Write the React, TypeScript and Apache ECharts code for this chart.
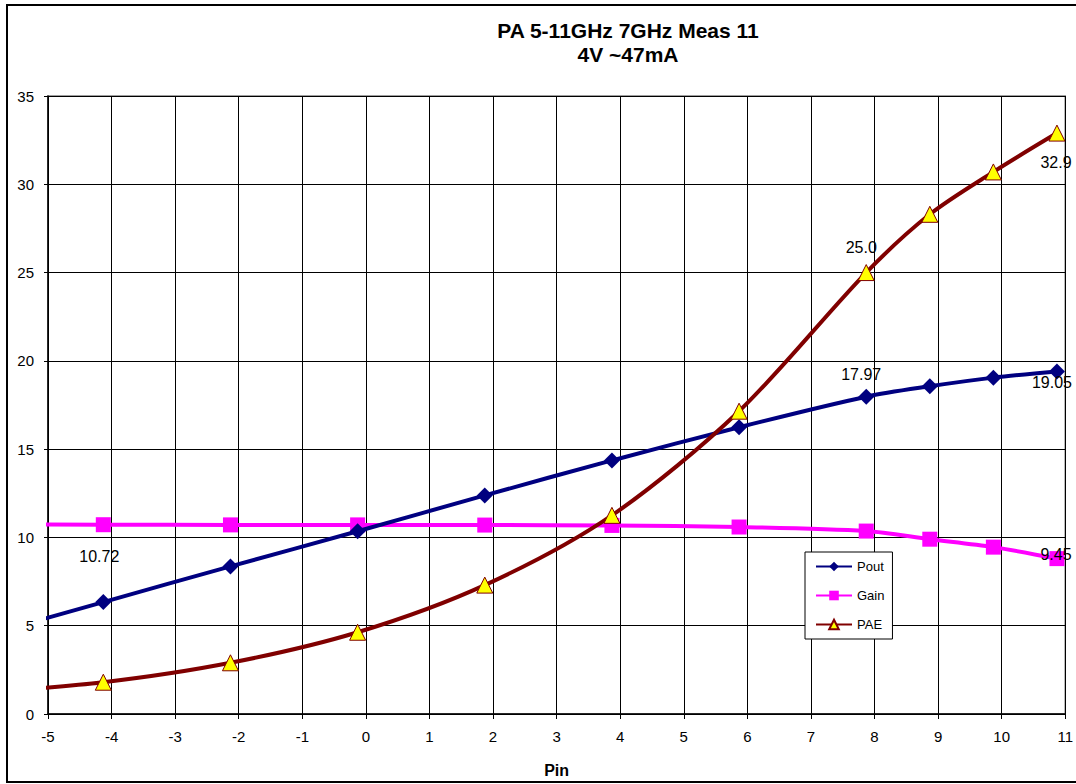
import React, { useEffect, useRef } from "react";
import * as echarts from "echarts";

const pin = [-6.13, -4.13, -2.13, -0.13, 1.87, 3.87, 5.87, 7.87, 8.87, 9.87, 10.87];
const pout = [4.3, 6.34, 8.36, 10.35, 12.38, 14.36, 16.24, 17.97, 18.56, 19.05, 19.4];
const gain = [10.75, 10.72, 10.71, 10.71, 10.7, 10.68, 10.59, 10.36, 9.9, 9.45, 8.8];
const pae = [1.2, 1.8, 2.9, 4.63, 7.3, 11.25, 17.15, 25.0, 28.3, 30.7, 32.9];

const poutLabels = ["", "", "", "", "", "", "", "17.97", "", "", "19.05"];
const gainLabels = ["", "10.72", "", "", "", "", "", "", "", "", "9.45"];
const paeLabels = ["", "", "", "", "", "", "", "25.0", "", "", "32.9"];

const titleText = "PA 5-11GHz 7GHz Meas 11\n4V ~47mA";
const xName = "Pin";

const FONT = "'Liberation Sans', Arial, sans-serif";

function buildData(ys: number[], labels: string[], offsets: Record<number, number[]>) {
  return ys.map((y, i) => {
    const item: any = { value: [pin[i], y] };
    if (labels[i]) {
      item.label = {
        show: true,
        formatter: labels[i],
        position: "inside",
        offset: offsets[i] || [0, 0],
        color: "#000",
        fontSize: 16,
        fontFamily: FONT,
      };
    }
    return item;
  });
}

export default function App() {
  const ref = useRef<HTMLDivElement>(null);
  useEffect(() => {
    if (!ref.current) return;
    const chart = echarts.init(ref.current, undefined, { renderer: "svg" });
    chart.setOption({
      animation: false,
      backgroundColor: "#fff",
      textStyle: { fontFamily: FONT },
      title: {
        text: titleText,
        left: 628,
        top: 18,
        padding: 0,
        textAlign: "center",
        textStyle: { fontSize: 21, fontWeight: "bold", color: "#000", lineHeight: 24, fontFamily: FONT },
      },
      graphic: [
        {
          type: "rect",
          shape: { x: 7, y: 5, width: 1080, height: 777 },
          style: { fill: "none", stroke: "#000", lineWidth: 2 },
          silent: true,
        },
      ],
      grid: {
        left: 48,
        right: 10,
        top: 96,
        bottom: 70,
        show: true,
        borderColor: "#808080",
        borderWidth: 1.5,
      },
      legend: {
        orient: "vertical",
        left: 805,
        top: 552,
        backgroundColor: "#fff",
        borderColor: "#000",
        borderWidth: 1,
        padding: [8, 8, 8, 10],
        itemWidth: 36,
        itemHeight: 12,
        itemGap: 16,
        textStyle: { fontSize: 13, color: "#000", fontFamily: FONT },
        data: ["Pout", "Gain", "PAE"],
      },
      xAxis: {
        type: "value",
        min: -5,
        max: 11,
        interval: 1,
        name: xName,
        nameLocation: "middle",
        nameGap: 48,
        nameTextStyle: { fontSize: 16, fontWeight: "bold", color: "#000", fontFamily: FONT },
        axisLine: { show: true, onZero: false, lineStyle: { color: "#000", width: 1.5 } },
        axisTick: { show: true, inside: false, length: 5, lineStyle: { color: "#000" } },
        axisLabel: { color: "#000", fontSize: 15, margin: 15, fontFamily: FONT },
        splitLine: { show: true, lineStyle: { color: "#000", width: 1 } },
      },
      yAxis: {
        type: "value",
        min: 0,
        max: 35,
        interval: 5,
        axisLine: { show: true, onZero: false, lineStyle: { color: "#000", width: 1.5 } },
        axisTick: { show: true, inside: false, length: 4, lineStyle: { color: "#000" } },
        axisLabel: { color: "#000", fontSize: 15, margin: 14, fontFamily: FONT },
        splitLine: { show: true, lineStyle: { color: "#000", width: 1 } },
      },
      series: [
        {
          name: "Pout",
          type: "line",
          smooth: 0.3,
          clip: true,
          data: buildData(pout, poutLabels, { 7: [-5, -22], 10: [-5, 11] }),
          lineStyle: { color: "#000080", width: 4 },
          itemStyle: { color: "#000080" },
          symbol: "diamond",
          symbolSize: 16,
          showAllSymbol: true,
          z: 3,
        },
        {
          name: "Gain",
          type: "line",
          smooth: 0.3,
          clip: true,
          data: buildData(gain, gainLabels, { 1: [-4, 32], 10: [-1, -4] }),
          lineStyle: { color: "#FF00FF", width: 4 },
          itemStyle: { color: "#FF00FF" },
          symbol: "rect",
          symbolSize: 15,
          showAllSymbol: true,
          z: 2,
        },
        {
          name: "PAE",
          type: "line",
          smooth: 0.3,
          clip: true,
          data: buildData(pae, paeLabels, { 7: [-5, -25], 10: [-1, 29] }),
          lineStyle: { color: "#800000", width: 4 },
          itemStyle: { color: "#FFFF00", borderColor: "#800000", borderWidth: 1 },
          symbol: "triangle",
          symbolSize: 16,
          showAllSymbol: true,
          z: 4,
        },
      ],
    });
    return () => chart.dispose();
  }, []);
  return (
    <div
      ref={ref}
      style={{ position: "fixed", left: 0, top: 0, width: 1076, height: 784 }}
    />
  );
}
